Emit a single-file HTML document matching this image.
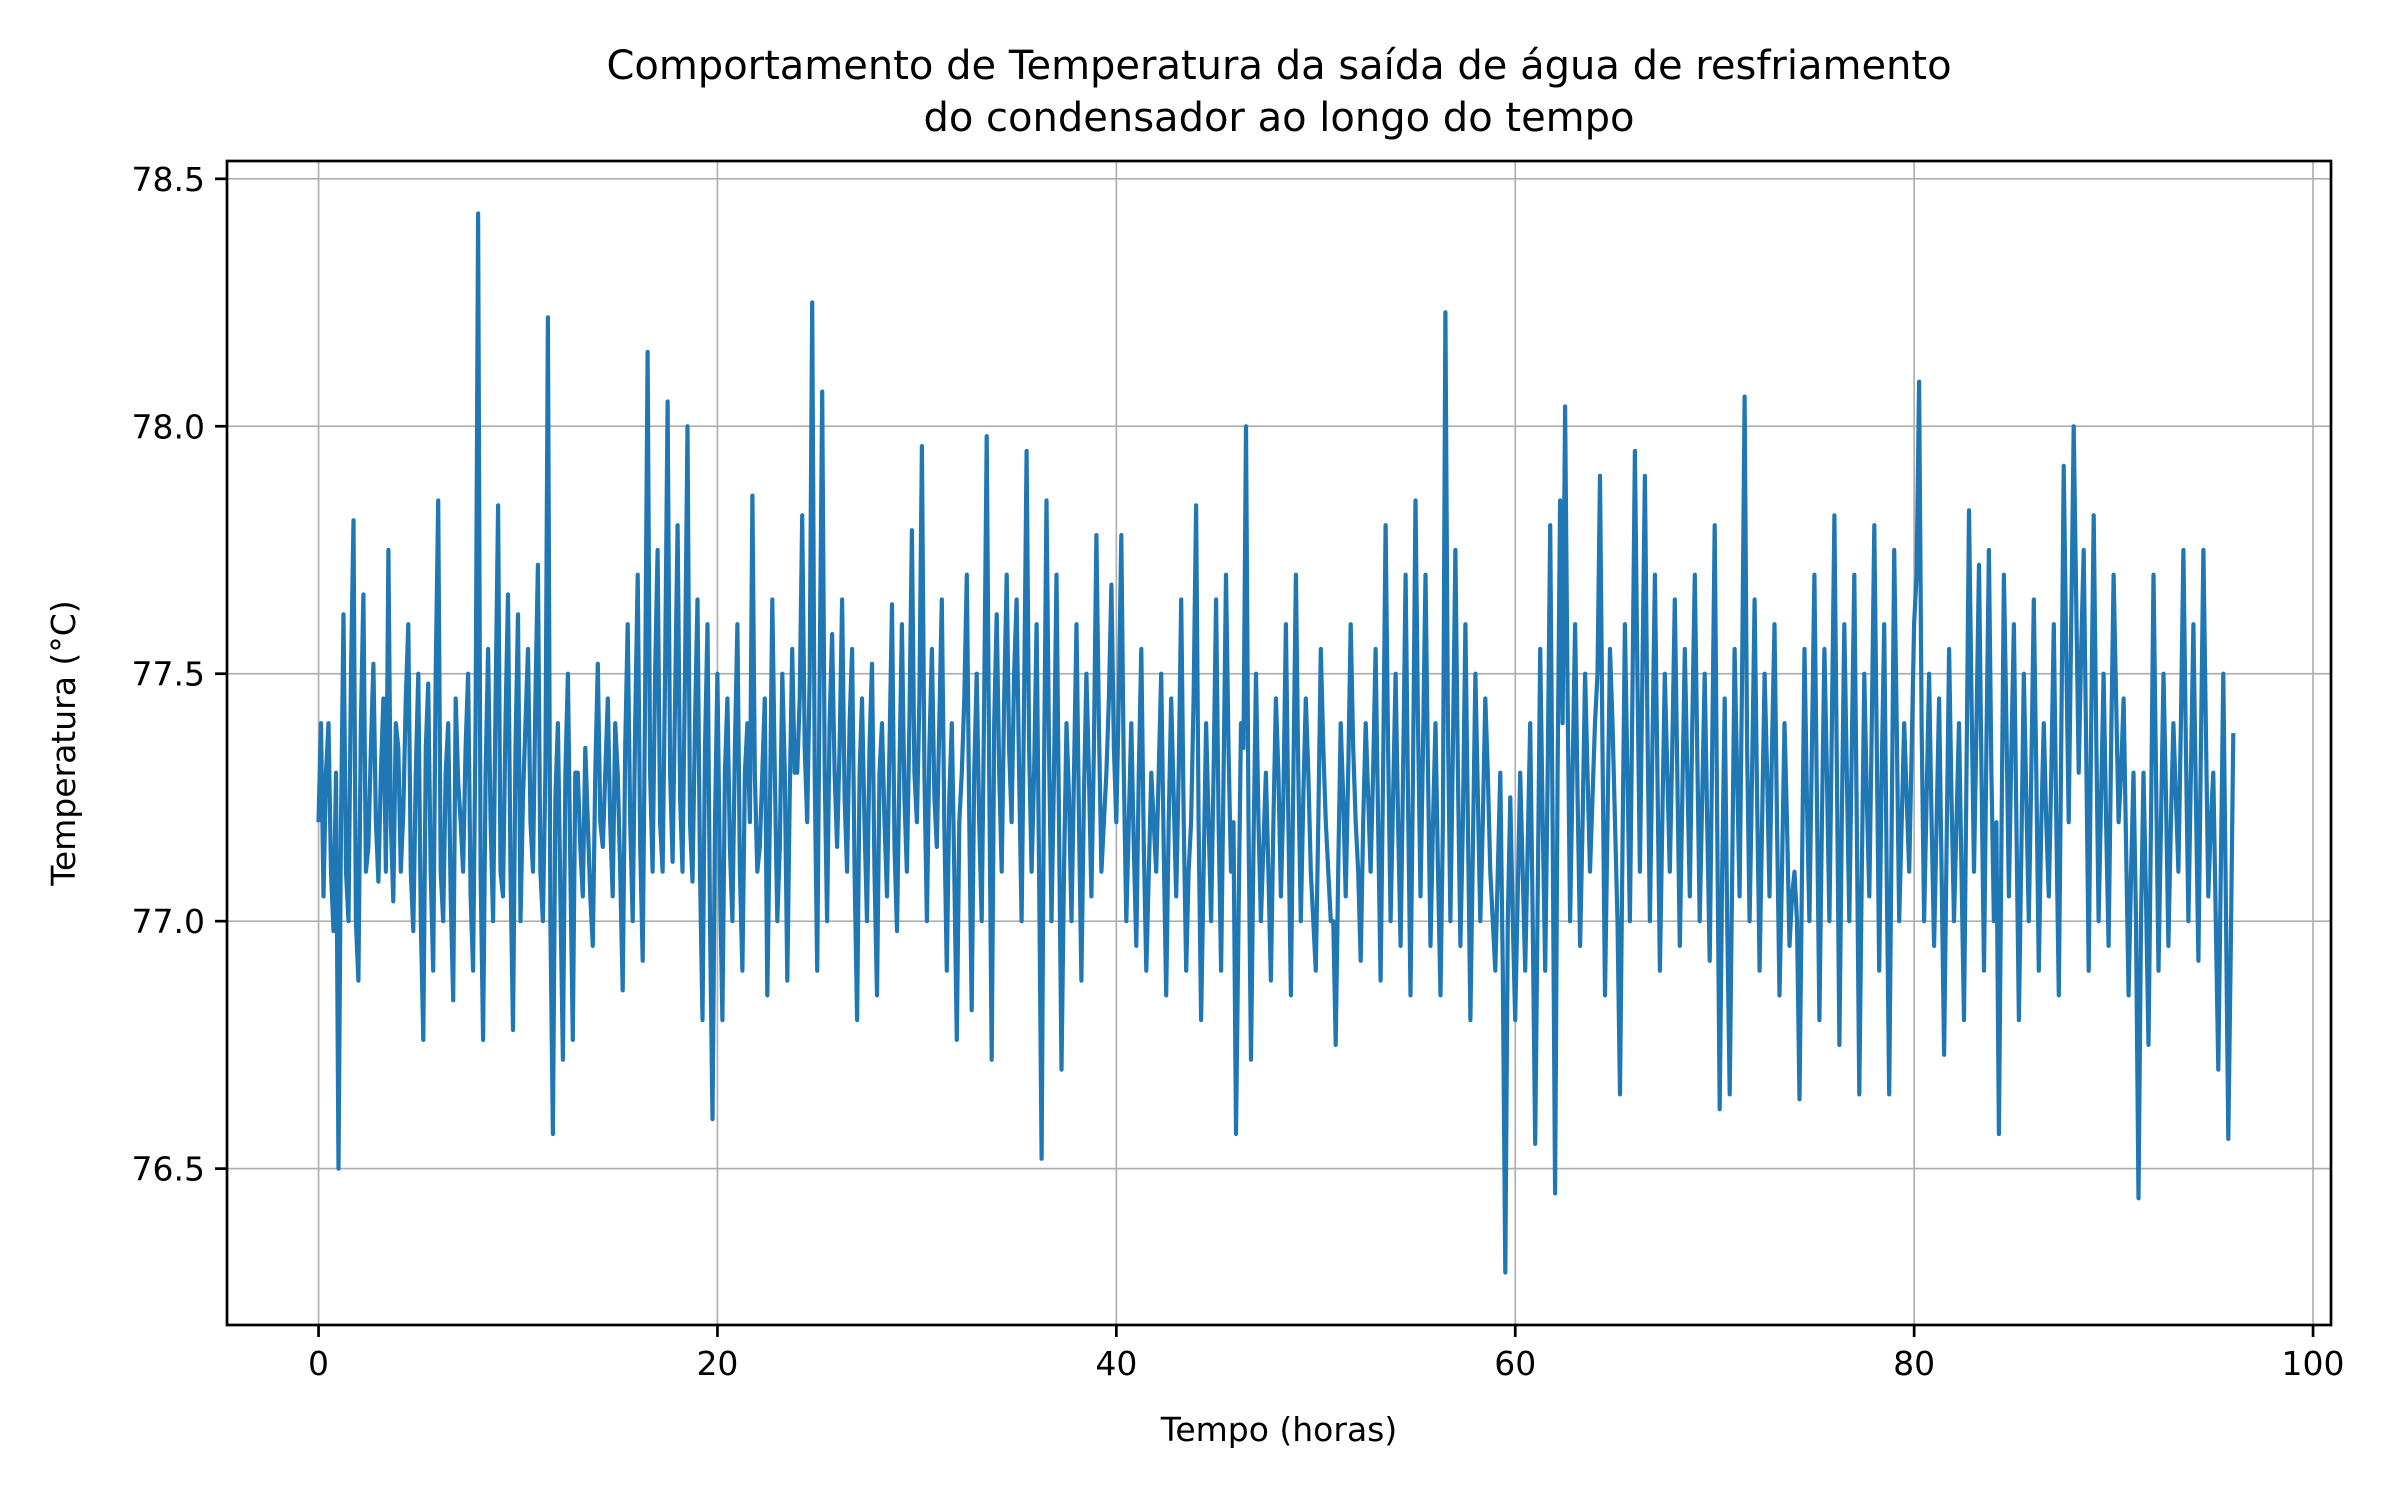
<!DOCTYPE html>
<html><head><meta charset="utf-8"><style>
html,body{margin:0;padding:0;background:#fff}
svg{display:block;font-family:"DejaVu Sans","Liberation Sans",sans-serif}
</style></head><body>
<svg id="chart" width="2400" height="1500" viewBox="0 0 2400 1500" xmlns="http://www.w3.org/2000/svg">
<rect width="2400" height="1500" fill="#fff"/>
<text x="1279" y="79" font-size="40" text-anchor="middle">Comportamento de Temperatura da saída de água de resfriamento</text>
<text x="1279" y="131" font-size="40" text-anchor="middle">do condensador ao longo do tempo</text>
<g id="grid"></g>
<g id="ticks"></g>
<path id="series" fill="none" stroke="#1f77b4" stroke-width="4.2" stroke-linejoin="round"/>
<rect x="227" y="161" width="2104" height="1164" fill="none" stroke="#000" stroke-width="2.7"/>
<text x="1279" y="1441" font-size="33" text-anchor="middle">Tempo (horas)</text>
<text x="0" y="0" font-size="33" text-anchor="middle" transform="translate(75,743) rotate(-90)">Temperatura (°C)</text>
</svg>
<script>
const xTicks=[0,20,40,60,80,100];
const yTicks=[76.5,77.0,77.5,78.0,78.5];
const yTickLabels=["76.5","77.0","77.5","78.0","78.5"];
const timeStep=0.25;
const temps=[
77.2,77.05,77.4,76.98,76.5,77.62,77.0,77.81,76.88,77.66,77.15,77.52,77.08,77.45,77.75,77.04,77.35,77.22,77.6,76.98,
77.5,76.76,77.48,76.9,77.85,77.0,77.4,76.84,77.28,77.1,77.5,76.9,78.43,76.76,77.55,77.0,77.84,77.05,77.66,76.78,
77.62,77.25,77.55,77.1,77.72,77.0,78.22,76.57,77.4,76.72,77.5,76.76,77.3,77.05,77.2,76.95,77.52,77.15,77.45,77.05,
77.3,76.86,77.6,77.0,77.7,76.92,78.15,77.1,77.75,77.1,78.05,77.12,77.8,77.1,78.0,77.08,77.65,76.8,77.6,76.6,
77.5,76.8,77.45,77.0,77.6,76.9,77.4,77.86,77.1,77.3,76.85,77.65,77.0,77.5,76.88,77.55,77.3,77.82,77.2,78.25,
76.9,78.07,77.0,77.58,77.15,77.65,77.1,77.55,76.8,77.45,77.0,77.52,76.85,77.4,77.05,77.64,76.98,77.6,77.1,77.79,
77.2,77.96,77.0,77.55,77.15,77.65,76.9,77.4,76.76,77.3,77.7,76.82,77.5,77.0,77.98,76.72,77.62,77.1,77.7,77.2,
77.65,77.0,77.95,77.1,77.6,76.52,77.85,77.0,77.7,76.7,77.4,77.0,77.6,76.88,77.5,77.05,77.78,77.1,77.3,77.68,
77.2,77.78,77.0,77.4,76.95,77.55,76.9,77.3,77.1,77.5,76.85,77.45,77.05,77.65,76.9,77.2,77.84,76.8,77.4,77.0,
77.65,76.9,77.7,77.1,76.57,77.4,78.0,76.72,77.5,77.0,77.3,76.88,77.45,77.05,77.6,76.85,77.7,77.0,77.45,77.1,
76.9,77.55,77.2,77.0,76.75,77.4,77.05,77.6,77.2,76.92,77.4,77.1,77.55,76.88,77.8,77.0,77.5,76.95,77.7,76.85,
77.85,77.05,77.7,76.95,77.4,76.85,78.23,77.0,77.75,76.95,77.6,76.8,77.5,77.0,77.45,77.1,76.9,77.3,76.29,77.25,
76.8,77.3,76.9,77.4,76.55,77.55,76.9,77.8,76.45,77.85,78.04,77.0,77.6,76.95,77.5,77.1,77.4,77.9,76.85,77.55,
77.2,76.65,77.6,77.0,77.95,77.1,77.9,77.0,77.7,76.9,77.5,77.1,77.65,76.95,77.55,77.05,77.7,77.0,77.5,76.92,
77.8,76.62,77.45,76.65,77.55,77.05,78.06,77.0,77.65,76.9,77.5,77.05,77.6,76.85,77.4,76.95,77.1,76.64,77.55,77.0,
77.7,76.8,77.55,77.0,77.82,76.75,77.6,77.0,77.7,76.65,77.5,77.05,77.8,76.9,77.6,76.65,77.75,77.0,77.4,77.1,
77.6,78.09,77.0,77.5,76.95,77.45,76.73,77.55,77.0,77.4,76.8,77.83,77.1,77.72,76.9,77.75,77.0,76.57,77.7,77.05,
77.6,76.8,77.5,77.0,77.65,76.9,77.4,77.05,77.6,76.85,77.92,77.2,78.0,77.3,77.75,76.9,77.82,77.0,77.5,76.95,
77.7,77.2,77.45,76.85,77.3,76.44,77.3,76.75,77.7,76.9,77.5,76.95,77.4,77.1,77.75,77.0,77.6,76.92,77.75,77.05,
77.3,76.7,77.5,76.56,77.38
];
const tempsMid=[
77.4,77.3,77.1,77.3,77.2,77.1,77.5,77.0,77.4,77.1,77.35,77.2,77.3,77.1,77.2,77.4,77.1,77.45,77.1,77.3,
77.0,77.35,77.1,77.5,77.1,77.3,77.05,77.45,77.2,77.35,77.05,77.4,77.1,77.3,77.2,77.45,77.1,77.4,77.1,77.35,
77.0,77.4,77.2,77.45,77.1,77.3,77.0,77.25,77.05,77.3,77.1,77.3,77.15,77.35,77.05,77.3,77.2,77.3,77.2,77.4,
77.1,77.35,77.2,77.4,77.15,77.45,77.3,77.5,77.2,77.5,77.3,77.45,77.25,77.5,77.2,77.4,77.1,77.35,77.0,77.2,
77.1,77.3,77.15,77.35,77.1,77.3,77.2,77.3,77.15,77.45,77.2,77.3,77.15,77.3,77.25,77.3,77.45,77.35,77.5,77.3,
77.5,77.3,77.4,77.3,77.35,77.25,77.4,77.1,77.3,77.2,77.35,77.1,77.3,77.2,77.35,77.15,77.3,77.25,77.4,77.3,
77.45,77.3,77.35,77.25,77.4,77.2,77.25,77.1,77.2,77.45,77.2,77.3,77.2,77.45,77.3,77.4,77.3,77.45,77.35,77.5,
77.3,77.45,77.35,77.3,77.1,77.3,77.35,77.3,77.2,77.1,77.25,77.3,77.2,77.25,77.3,77.35,77.4,77.2,77.45,77.35,
77.45,77.3,77.2,77.15,77.3,77.15,77.1,77.2,77.3,77.15,77.2,77.25,77.3,77.2,77.1,77.45,77.2,77.1,77.2,77.3,
77.2,77.3,77.35,77.2,77.0,77.35,77.2,77.15,77.2,77.15,77.1,77.2,77.3,77.25,77.2,77.3,77.3,77.25,77.3,77.0,
77.2,77.35,77.1,77.0,77.1,77.25,77.3,77.35,77.1,77.2,77.25,77.3,77.2,77.3,77.35,77.25,77.2,77.3,77.25,77.3,
77.4,77.35,77.3,77.2,77.1,77.2,77.4,77.35,77.3,77.2,77.2,77.15,77.25,77.2,77.3,77.0,77.1,76.9,77.0,77.0,
77.05,77.1,77.15,77.0,77.05,77.2,77.3,77.2,77.3,77.4,77.45,77.3,77.25,77.2,77.3,77.25,77.5,77.35,77.2,77.4,
77.0,77.15,77.3,77.45,77.5,77.5,77.4,77.35,77.3,77.2,77.3,77.35,77.3,77.25,77.3,77.4,77.35,77.25,77.2,77.35,
77.2,77.1,77.0,77.1,77.3,77.5,77.35,77.3,77.25,77.2,77.3,77.35,77.2,77.1,77.2,77.05,77.0,77.1,77.25,77.35,
77.25,77.2,77.3,77.4,77.3,77.2,77.3,77.35,77.2,77.1,77.25,77.4,77.35,77.3,77.1,77.2,77.4,77.2,77.25,77.35,
77.7,77.4,77.25,77.2,77.2,77.1,77.15,77.25,77.2,77.1,77.3,77.45,77.4,77.3,77.35,77.3,77.2,77.15,77.4,77.35,
77.2,77.15,77.25,77.3,77.3,77.2,77.2,77.3,77.2,77.35,77.55,77.6,77.65,77.55,77.35,77.4,77.4,77.25,77.2,77.35,
77.45,77.3,77.15,77.1,77.0,77.0,77.05,77.2,77.3,77.2,77.25,77.2,77.25,77.4,77.35,77.3,77.25,77.35,77.4,77.2,
77.0,77.1,77.05,76.95
];
const L=227,R=2331,T=161,B=1325;
const xMin=-4.59,xMax=100.9,yMin=76.184,yMax=78.536;
const sx=v=>L+(v-xMin)/(xMax-xMin)*(R-L);
const sy=v=>B-(v-yMin)/(yMax-yMin)*(B-T);
const NS="http://www.w3.org/2000/svg";
const grid=document.getElementById('grid'),ticks=document.getElementById('ticks');
function mk(tag,attrs,parent){const e=document.createElementNS(NS,tag);for(const k in attrs)e.setAttribute(k,attrs[k]);parent.appendChild(e);return e;}
xTicks.forEach(t=>{const x=sx(t);
 const g=mk('line',{x1:x,x2:x,y1:T,y2:B,stroke:'#b0b0b0','stroke-width':1.7},grid);
 
 
 const tk=mk('line',{x1:x,x2:x,y1:B,y2:B+12,stroke:'#000','stroke-width':2.7},ticks);
 
 
 const tl=mk('text',{x:x,y:B+50,'font-size':33,'text-anchor':'middle'},ticks);tl.textContent=String(t);
 
 
});
yTicks.forEach((t,i)=>{const y=sy(t);
 const g=mk('line',{x1:L,x2:R,y1:y,y2:y,stroke:'#b0b0b0','stroke-width':1.7},grid);
 
 
 const tk=mk('line',{x1:L-12,x2:L,y1:y,y2:y,stroke:'#000','stroke-width':2.7},ticks);
 
 
 const tl=mk('text',{x:L-22,y:y+12,'font-size':33,'text-anchor':'end'},ticks);tl.textContent=yTickLabels[i];
 
 
});
const pts=[];
temps.forEach((v,i)=>{pts.push([i*timeStep,v]);if(i<tempsMid.length)pts.push([i*timeStep+timeStep/2,tempsMid[i]]);});
document.getElementById('series').setAttribute('d',pts.map((p,i)=>(i?'L':'M')+sx(p[0]).toFixed(1)+' '+sy(p[1]).toFixed(1)).join(' '));
</script>
</body></html>
